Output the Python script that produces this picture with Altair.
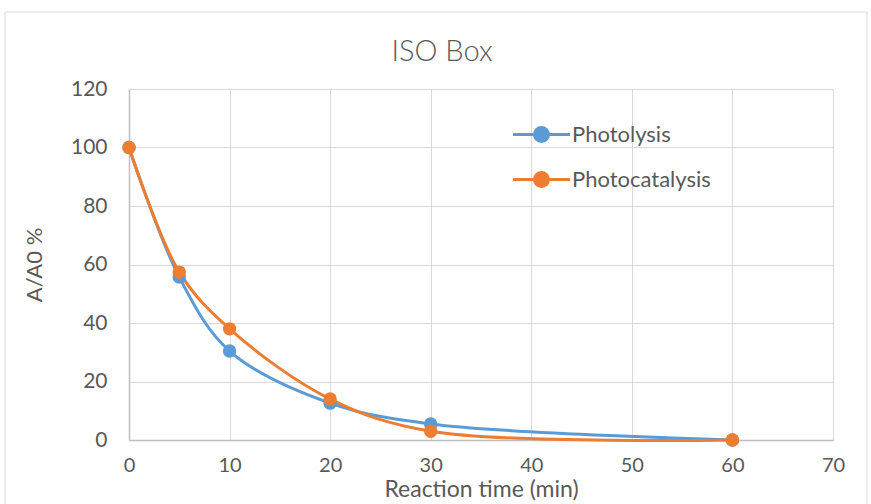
import altair as alt
import pandas as pd

times = [0, 5, 10, 20, 30, 60]
photolysis = [100, 55.7, 30.4, 12.6, 5.5, 0]
photocatalysis = [100, 57.4, 38.0, 14.0, 3.0, 0]
series_names = ["Photolysis", "Photocatalysis"]
colors = ["#5B9BD5", "#ED7D31"]

rows = []
for t, a, b in zip(times, photolysis, photocatalysis):
    rows.append({"time": t, "value": a, "series": series_names[0]})
    rows.append({"time": t, "value": b, "series": series_names[1]})
df = pd.DataFrame(rows)

FONT = "Lato"
TXT = "#595959"

x = alt.X("time:Q", scale=alt.Scale(domain=[0, 70], nice=False),
          axis=alt.Axis(values=[0, 10, 20, 30, 40, 50, 60, 70], title="Reaction time (min)",
                        titlePadding=3, labelPadding=15, labelFlush=False, titleFontSize=23, labelFontSize=20))
y = alt.Y("value:Q", scale=alt.Scale(domain=[0, 120], nice=False),
          axis=alt.Axis(values=[0, 20, 40, 60, 80, 100, 120], title="A/A0 %",
                        titlePadding=24, labelPadding=22, titleFontSize=22, labelFontSize=21))
color = alt.Color("series:N", scale=alt.Scale(domain=series_names, range=colors),
                  legend=alt.Legend(title=None, orient="none", legendX=392, legendY=25,
                                    symbolType="M-1.5,0H1.5M0.37,0A0.37,0.37,0,1,1,-0.37,0A0.37,0.37,0,1,1,0.37,0Z",
                                    symbolSize=1444, symbolStrokeWidth=3, symbolFillColor=None,
                                    labelFontSize=22, labelFont=FONT, labelColor=TXT,
                                    rowPadding=11, labelOffset=10))

lines = alt.Chart(df).mark_line(interpolate="catmull-rom", strokeWidth=3).encode(x=x, y=y, color=color)
pts = alt.Chart(df).mark_circle(size=180, opacity=1).encode(
    x=x, y=y, color=alt.Color("series:N", scale=alt.Scale(domain=series_names, range=colors), legend=None))

border = alt.Chart(pd.DataFrame({"a": [0]})).mark_rect(fill=None, stroke="#d9d9d9", strokeWidth=1, clip=False).encode(
    x=alt.value(-124), x2=alt.value(738), y=alt.value(-77), y2=alt.value(420))

chart = alt.layer(border, lines, pts).properties(
    width=704, height=351,
    background="white",
    title=alt.TitleParams("ISO Box", fontSize=29, font=FONT, fontWeight=300, color=TXT,
                          offset=0, dy=78, dx=-39, baseline="alphabetic"),
    autosize=alt.AutoSizeParams(type="none"),
    padding={"left": 129, "top": 89, "right": 38, "bottom": 64},
).configure_view(stroke=None).configure_axis(
    labelFont=FONT, titleFont=FONT, labelColor=TXT, titleColor=TXT,
    titleFontWeight="normal", gridColor="#d9d9d9", domainColor="#bfbfbf", ticks=False, domainWidth=1.5
)

chart.save("out.html", embed_options={"renderer": "svg", "actions": False})
